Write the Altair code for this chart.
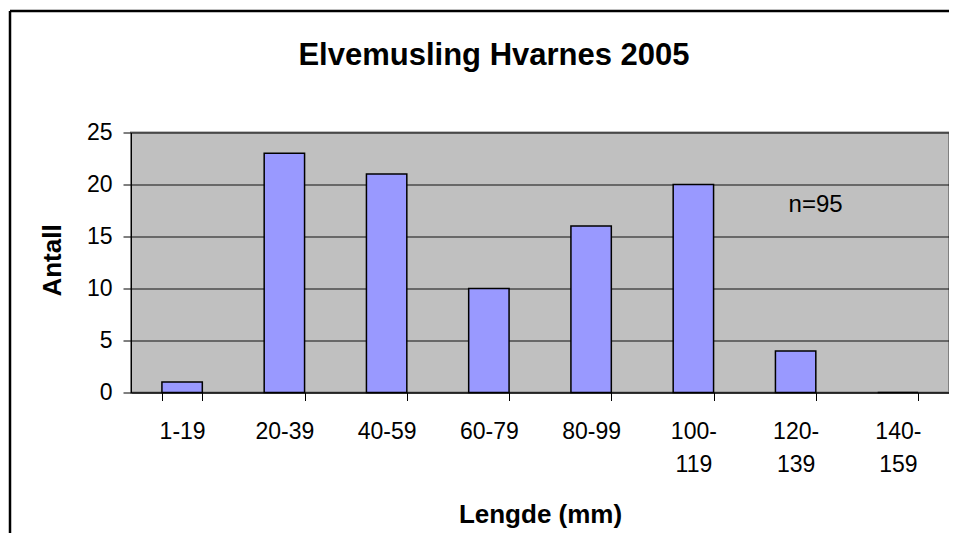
import altair as alt
import pandas as pd

categories = ["1-19", "20-39", "40-59", "60-79", "80-99", "100-119", "120-139", "140-159"]
counts = [1, 23, 21, 10, 16, 20, 4, 0]

note_text = ["n=95"]
note_cat = ["120-139"]
note_y = [18]

title_text = ["Elvemusling Hvarnes 2005"]

FONT = "Liberation Sans"
PL = 123      # left padding
PT = 124.5    # top padding

bars_df = pd.DataFrame({"Lengde": categories, "Antall": counts})
note_df = pd.DataFrame({"Lengde": note_cat, "Antall": note_y, "txt": note_text})
title_df = pd.DataFrame({"t": title_text})
one_df = pd.DataFrame({"k": [0]})

x_enc = alt.X(
    "Lengde:N",
    sort=categories,
    scale=alt.Scale(paddingInner=0.605, paddingOuter=0.3025),
    axis=alt.Axis(
        title="Lengde (mm)",
        labelAngle=0,
        labelExpr="length(datum.label) > 5 ? [slice(datum.label, 0, 4), slice(datum.label, 4)] : datum.label",
        labelFont=FONT,
        labelFontSize=23,
        labelColor="black",
        labelLineHeight=33,
        labelPadding=20,
        labelBaseline="top",
        tickBand="extent",
        tickSize=8,
        tickColor="black",
        tickWidth=1,
        domainColor="black",
        domainWidth=1,
        titleFont=FONT,
        titleFontSize=26,
        titleFontWeight="bold",
        titleColor="black",
        titleY=122,
        titleBaseline="middle",
        grid=False,
    ),
)

y_enc = alt.Y(
    "Antall:Q",
    scale=alt.Scale(domain=[0, 25], nice=False),
    axis=alt.Axis(
        title="Antall",
        values=[0, 5, 10, 15, 20, 25],
        labelFont=FONT,
        labelFontSize=23,
        labelColor="black",
        labelPadding=11,
        tickSize=8,
        tickColor="black",
        domainColor="black",
        domainWidth=1,
        grid=True,
        gridColor="#111111",
        gridWidth=1,
        titleFont=FONT,
        titleFontSize=26,
        titleFontWeight="bold",
        titleColor="black",
        titleX=-79,
        titleY=127.5,
        titleAngle=-90,
        titleBaseline="middle",
        titleAlign="center",
    ),
)

bars = alt.Chart(bars_df).mark_bar(
    color="#9999FF", stroke="black", strokeWidth=1.5
).encode(x=x_enc, y=y_enc)

note = alt.Chart(note_df).mark_text(
    font=FONT, fontSize=24, color="black", dx=20, baseline="middle"
).encode(
    x=alt.X("Lengde:N", sort=categories),
    y=alt.Y("Antall:Q"),
    text="txt:N",
)

title = alt.Chart(title_df).mark_text(
    font=FONT, fontSize=31, fontWeight="bold", color="black",
    align="center", baseline="alphabetic", clip=False,
).encode(
    x=alt.value(494 - 8 - PL),
    y=alt.value(65 - 8 - PT),
    text="t:N",
)

frame_top = alt.Chart(one_df).mark_rule(
    color="black", strokeWidth=2.5, clip=False
).encode(
    x=alt.value(10 - 8 - PL),
    x2=alt.value(830),
    y=alt.value(11 - 8 - PT),
)

frame_left = alt.Chart(one_df).mark_rule(
    color="black", strokeWidth=2.5, clip=False
).encode(
    x=alt.value(10 - 8 - PL),
    y=alt.value(11 - 8 - PT),
    y2=alt.value(420),
)

chart = alt.layer(frame_top, frame_left, title, bars, note).properties(
    width=818,
    height=260,
    padding={"left": PL, "top": PT, "right": 0, "bottom": 140},
    autosize=alt.AutoSizeParams(type="none"),
    background="white",
).configure_view(
    fill="#C0C0C0", stroke="#808080", strokeWidth=2
)

chart.save("out.html", embed_options={"renderer": "svg", "actions": False})
